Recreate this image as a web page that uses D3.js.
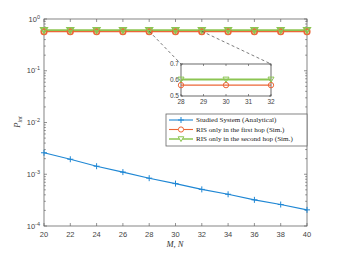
<!DOCTYPE html>
<html><head><meta charset="utf-8">
<script src="https://cdn.jsdelivr.net/npm/d3@7"></script>
<style>body{margin:0;background:#fff}svg{display:block}</style>
</head><body>
<script>
const xVals = [20,22,24,26,28,30,32,34,36,38,40];
const studied = [2.6e-3,1.95e-3,1.43e-3,1.1e-3,8.4e-4,6.6e-4,5.1e-4,4.1e-4,3.2e-4,2.6e-4,2.05e-4];
const firstHop = [0.568,0.568,0.568,0.568,0.568,0.568,0.568,0.568,0.568,0.568,0.568];
const secondHop = [0.603,0.603,0.603,0.603,0.603,0.603,0.603,0.603,0.603,0.603,0.603];
const xTicks = [20,22,24,26,28,30,32,34,36,38,40];
const yDecades = [0,-1,-2,-3,-4];
const insetX = [28,30,32];
const insetFirst = [0.568,0.568,0.568];
const insetSecond = [0.603,0.603,0.603];
const insetXTicks = [28,29,30,31,32];
const insetYTicks = [0.5,0.6,0.7];
const legendLabels = ["Studied System (Analytical)","RIS only in the first hop (Sim.)","RIS only in the second hop (Sim.)"];

const W=339,H=255;
const C={blue:"#1f87d4",orange:"#ec6637",green:"#8cc552",axis:"#666"};
const svg=d3.select("body").append("svg").attr("width",W).attr("height",H);
const L=44,R=307,T=19,B=226;
const x=d3.scaleLinear().domain([20,40]).range([L,R]);
const y=d3.scaleLog().domain([1e-4,1]).range([B,T]);
const tickFont="'Liberation Sans', Arial, sans-serif";
const serif="'Liberation Serif','DejaVu Serif',serif";

svg.append("rect").attr("x",L).attr("y",T).attr("width",R-L).attr("height",B-T).attr("fill","none").attr("stroke",C.axis).attr("stroke-width",0.8);
const g=svg.append("g").attr("stroke",C.axis).attr("stroke-width",0.7);
xTicks.forEach(v=>{
  g.append("line").attr("x1",x(v)).attr("x2",x(v)).attr("y1",B).attr("y2",B-3);
  g.append("line").attr("x1",x(v)).attr("x2",x(v)).attr("y1",T).attr("y2",T+3);
  svg.append("text").attr("x",x(v)).attr("y",B+11).attr("text-anchor","middle").attr("font-family",tickFont).attr("font-size",7.5).attr("fill","#444").text(v);
});
yDecades.forEach(d=>{
  const v=Math.pow(10,d);
  g.append("line").attr("x1",L).attr("x2",L+3).attr("y1",y(v)).attr("y2",y(v));
  g.append("line").attr("x1",R).attr("x2",R-3).attr("y1",y(v)).attr("y2",y(v));
  const t=svg.append("text").attr("x",L-4).attr("y",y(v)+2.5).attr("text-anchor","end").attr("font-family",tickFont).attr("font-size",7.5).attr("fill","#444");
  t.append("tspan").text("10");
  t.append("tspan").attr("dy",-3).attr("font-size",5.5).text(d);
  if(d>-4){for(let k=2;k<=9;k++){const m=v*k/10;
    g.append("line").attr("x1",L).attr("x2",L+1.8).attr("y1",y(m)).attr("y2",y(m));
    g.append("line").attr("x1",R).attr("x2",R-1.8).attr("y1",y(m)).attr("y2",y(m));}}
});
svg.append("text").attr("x",175).attr("y",247).attr("text-anchor","middle").attr("font-family",serif).attr("font-style","italic").attr("font-size",8.5).attr("fill","#333").text("M, N");
const yl=svg.append("text").attr("transform","translate(20,122) rotate(-90)").attr("text-anchor","middle").attr("font-family",serif).attr("font-style","italic").attr("font-size",8.5).attr("fill","#333");
yl.append("tspan").text("P");
yl.append("tspan").attr("dy",2).attr("font-size",6).text("int");

const line=(xs,ys,sx,sy)=>d3.line().x((d,i)=>sx(xs[i])).y(d=>sy(d))(ys);
function tri(cx,cy,s){return `M${cx-s},${cy-s*0.8}L${cx+s},${cy-s*0.8}L${cx},${cy+s*0.9}Z`;}

svg.append("path").attr("d",line(xVals,secondHop,x,y)).attr("fill","none").attr("stroke",C.green).attr("stroke-width",2);
svg.append("path").attr("d",line(xVals,firstHop,x,y)).attr("fill","none").attr("stroke",C.orange).attr("stroke-width",1.3);
xVals.forEach((v,i)=>{
  svg.append("circle").attr("cx",x(v)).attr("cy",y(firstHop[i])).attr("r",2.8).attr("fill","none").attr("stroke",C.orange).attr("stroke-width",1.6);
  svg.append("path").attr("d",tri(x(v),y(secondHop[i]),3.2)).attr("fill","none").attr("stroke",C.green).attr("stroke-width",1.6);
});
svg.append("path").attr("d",line(xVals,studied,x,y)).attr("fill","none").attr("stroke",C.blue).attr("stroke-width",1.1);
xVals.forEach((v,i)=>{
  const cx=x(v),cy=y(studied[i]);
  svg.append("path").attr("d",`M${cx-3},${cy}L${cx+3},${cy}M${cx},${cy-3}L${cx},${cy+3}`).attr("stroke",C.blue).attr("stroke-width",1);
});

const iL=181,iR=271,iT=64,iB=96;
const ix=d3.scaleLinear().domain([28,32]).range([iL,iR]);
const iy=d3.scaleLinear().domain([0.5,0.7]).range([iB,iT]);
svg.append("line").attr("x1",x(28)).attr("y1",y(0.58)).attr("x2",iL).attr("y2",iT).attr("stroke","#444").attr("stroke-width",0.7).attr("stroke-dasharray","3,2.5");
svg.append("line").attr("x1",x(32)).attr("y1",y(0.58)).attr("x2",iR).attr("y2",iT).attr("stroke","#444").attr("stroke-width",0.7).attr("stroke-dasharray","3,2.5");
svg.append("rect").attr("x",iL).attr("y",iT).attr("width",iR-iL).attr("height",iB-iT).attr("fill","#fff").attr("stroke","#444").attr("stroke-width",0.8);
const ig=svg.append("g").attr("stroke","#444").attr("stroke-width",0.6);
insetXTicks.forEach(v=>{
  ig.append("line").attr("x1",ix(v)).attr("x2",ix(v)).attr("y1",iB).attr("y2",iB-2);
  ig.append("line").attr("x1",ix(v)).attr("x2",ix(v)).attr("y1",iT).attr("y2",iT+2);
  svg.append("text").attr("x",ix(v)).attr("y",iB+7.5).attr("text-anchor","middle").attr("font-family",tickFont).attr("font-size",6.5).attr("fill","#444").text(v);
});
insetYTicks.forEach(v=>{
  ig.append("line").attr("x1",iL).attr("x2",iL+2).attr("y1",iy(v)).attr("y2",iy(v));
  ig.append("line").attr("x1",iR).attr("x2",iR-2).attr("y1",iy(v)).attr("y2",iy(v));
  svg.append("text").attr("x",iL-2).attr("y",iy(v)+2.3).attr("text-anchor","end").attr("font-family",tickFont).attr("font-size",6.5).attr("fill","#444").text(v.toFixed(1));
});
svg.append("path").attr("d",line(insetX,insetSecond,ix,iy)).attr("fill","none").attr("stroke",C.green).attr("stroke-width",1.8);
svg.append("path").attr("d",line(insetX,insetFirst,ix,iy)).attr("fill","none").attr("stroke",C.orange).attr("stroke-width",1.1);
insetX.forEach((v,i)=>{
  svg.append("circle").attr("cx",ix(v)).attr("cy",iy(insetFirst[i])).attr("r",2.7).attr("fill","none").attr("stroke",C.orange).attr("stroke-width",1);
  svg.append("path").attr("d",tri(ix(v),iy(insetSecond[i]),3)).attr("fill","none").attr("stroke",C.green).attr("stroke-width",1);
});

const lgX=166,lgY=114,lgW=141,lgH=32;
svg.append("rect").attr("x",lgX).attr("y",lgY).attr("width",lgW).attr("height",lgH).attr("fill","#fff").attr("stroke",C.axis).attr("stroke-width",0.8);
const rows=[120,129.5,139];
const cols=[C.blue,C.orange,C.green];
rows.forEach((ry,i)=>{
  svg.append("line").attr("x1",169).attr("x2",193).attr("y1",ry).attr("y2",ry).attr("stroke",cols[i]).attr("stroke-width",i===2?1.5:1.1);
  if(i===0) svg.append("path").attr("d",`M178,${ry}L184,${ry}M181,${ry-3}L181,${ry+3}`).attr("stroke",C.blue).attr("stroke-width",1);
  if(i===1) svg.append("circle").attr("cx",181).attr("cy",ry).attr("r",2.6).attr("fill","#fff").attr("stroke",C.orange).attr("stroke-width",1);
  if(i===2) svg.append("path").attr("d",tri(181,ry,2.8)).attr("fill","#fff").attr("stroke",C.green).attr("stroke-width",1);
  svg.append("text").attr("x",196).attr("y",ry+2.3).attr("font-family",serif).attr("font-size",7.1).attr("fill","#222").text(legendLabels[i]);
});
</script>
</body></html>
